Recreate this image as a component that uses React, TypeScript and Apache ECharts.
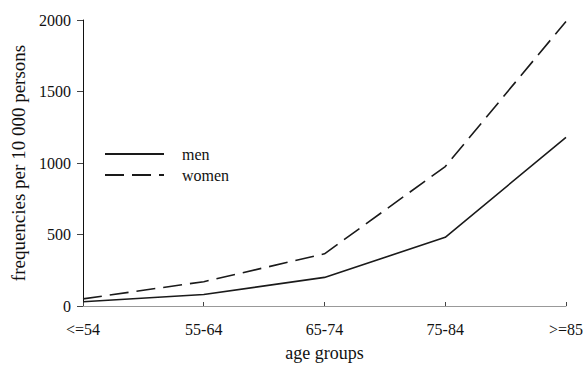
import React, { useEffect, useRef } from "react";
import * as echarts from "echarts";

const categories = ["<=54", "55-64", "65-74", "75-84", ">=85"];
const men = [30, 80, 200, 480, 1180];
const women = [50, 170, 365, 975, 1990];
const yTicks = { min: 0, max: 2000, interval: 500 };

const FONT = "Liberation Serif";

export default function App() {
  const ref = useRef<HTMLDivElement>(null);
  useEffect(() => {
    if (!ref.current) return;
    const chart = echarts.init(ref.current, undefined, { renderer: "svg" });
    chart.setOption({
      animation: false,
      backgroundColor: "#fff",
      textStyle: { fontFamily: FONT },
      grid: { left: 83, right: 16, top: 20, bottom: 56 },
      legend: {
        left: 99,
        top: 141,
        orient: "vertical",
        itemWidth: 59,
        itemHeight: 14,
        itemGap: 5,
        itemStyle: { color: "transparent", borderColor: "transparent", borderWidth: 0, opacity: 0 },
        textStyle: { fontFamily: FONT, fontSize: 16, color: "#111", padding: [0, 0, 0, 13] },
        data: ["men", "women"],
      },
      xAxis: {
        type: "category",
        data: categories,
        boundaryGap: false,
        name: "age groups",
        nameLocation: "middle",
        nameGap: 38,
        nameTextStyle: { fontFamily: FONT, fontSize: 18, color: "#111" },
        axisLine: { lineStyle: { color: "#999", width: 1 } },
        axisTick: { inside: true, length: 4, lineStyle: { color: "#444" } },
        axisLabel: { fontFamily: FONT, fontSize: 16, color: "#111", margin: 15 },
        splitLine: { show: false },
      },
      yAxis: {
        type: "value",
        min: yTicks.min,
        max: yTicks.max,
        interval: yTicks.interval,
        name: "frequencies per 10 000 persons",
        nameLocation: "middle",
        nameGap: 55,
        nameTextStyle: { fontFamily: FONT, fontSize: 19, color: "#111" },
        axisLine: { show: true, lineStyle: { color: "#111", width: 1 } },
        axisTick: { show: true, length: 6, lineStyle: { color: "#444" } },
        axisLabel: {
          fontFamily: FONT,
          fontSize: 16,
          color: "#111",
          margin: 12,
          formatter: (v: number) => String(v),
        },
        splitLine: { show: false },
      },
      series: [
        {
          name: "men",
          type: "line",
          data: men,
          symbol: "none",
          lineStyle: { color: "#1a1a1a", width: 1.6, type: "solid" },
          itemStyle: { color: "#1a1a1a" },
        },
        {
          name: "women",
          type: "line",
          data: women,
          symbol: "none",
          lineStyle: { color: "#1a1a1a", width: 1.6, type: [19, 8] },
          itemStyle: { color: "#1a1a1a" },
        },
      ],
    });
    return () => chart.dispose();
  }, []);
  return (
    <div
      ref={ref}
      style={{ position: "fixed", left: 0, top: 0, width: 586, height: 367 }}
    />
  );
}
